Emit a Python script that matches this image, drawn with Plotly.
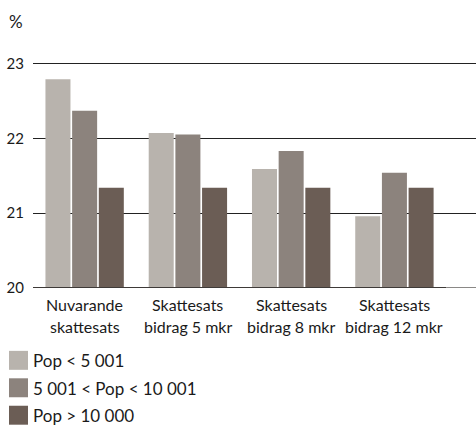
import plotly.graph_objects as go

# Data
categories = ["Nuvarande<br>skattesats", "Skattesats<br>bidrag 5 mkr",
              "Skattesats<br>bidrag 8 mkr", "Skattesats<br>bidrag 12 mkr"]
series_names = ["Pop < 5 001", "5 001 < Pop < 10 001", "Pop > 10 000"]
pop_small = [22.79, 22.07, 21.59, 20.96]
pop_mid = [22.37, 22.05, 21.83, 21.54]
pop_large = [21.34, 21.34, 21.34, 21.34]
series_values = [pop_small, pop_mid, pop_large]
colors = ["#B8B3AD", "#8C837D", "#6B5D55"]
y_ticks = [20, 21, 22, 23]

W, H = 476, 429
Y_MAX = 23.02
L, R, B = 33, 0, 141
T = 63 - (Y_MAX - 23) * 75
FONT = "Lato"
TEXT = "#1a1a1a"

plot_w = W - L - R
plot_h = H - T - B


def px_x(px):
    return (px - L) / plot_w


def px_y(py):
    return (H - B - py) / plot_h


fig = go.Figure()
idx = list(range(len(categories)))
for name, vals, col in zip(series_names, series_values, colors):
    fig.add_trace(go.Bar(x=idx, y=vals, name=name, marker_color=col,
                         marker_line_width=0, showlegend=False))

shapes = []
annotations = []

# Baseline at 20: dark under the category bands, lighter beyond
shapes.append(dict(type="line", xref="x", yref="y", x0=-0.5, x1=3.5, y0=20, y1=20,
                   line=dict(color="#3e3a38", width=2), layer="above"))
shapes.append(dict(type="line", xref="x", yref="y", x0=3.5, x1=3.79, y0=20, y1=20,
                   line=dict(color="#8a8886", width=2), layer="above"))

# Category labels (two lines each)
for i, c in enumerate(categories):
    for j, line in enumerate(c.split("<br>")):
        annotations.append(dict(x=i, xref="x", y=px_y(305 + 22 * j), yref="paper",
                                text=line, showarrow=False, xanchor="center",
                                yanchor="middle",
                                font=dict(family=FONT, size=16, color=TEXT)))

# Legend
for k, (name, col) in enumerate(zip(series_names, colors)):
    top = 351 + 27.5 * k
    shapes.append(dict(type="rect", xref="paper", yref="paper",
                       x0=px_x(9), x1=px_x(28), y0=px_y(top), y1=px_y(top + 19),
                       fillcolor=col, line=dict(width=0)))
    annotations.append(dict(x=px_x(31), xref="paper", y=px_y(top + 10), yref="paper",
                            text=name, showarrow=False, xanchor="left", yanchor="middle",
                            font=dict(family=FONT, size=17, color=TEXT)))

# Unit label
annotations.append(dict(x=px_x(7), xref="paper", y=px_y(21), yref="paper", text="%",
                        showarrow=False, xanchor="left", yanchor="middle",
                        font=dict(family=FONT, size=17, color=TEXT)))

fig.update_layout(
    width=W, height=H,
    margin=dict(l=L, r=R, t=T, b=B),
    paper_bgcolor="white", plot_bgcolor="white",
    barmode="group", bargap=0.225, bargroupgap=0.0625,
    showlegend=False,
    shapes=shapes, annotations=annotations,
    xaxis=dict(range=[-0.5, 3.79], showticklabels=False, showgrid=False,
               zeroline=False, showline=False, ticks=""),
    yaxis=dict(range=[20, Y_MAX], tickvals=y_ticks, showgrid=True, gridcolor="#222222",
               gridwidth=1, zeroline=False, showline=False, ticks="",
               ticklabelstandoff=8,
               tickfont=dict(family=FONT, size=15, color=TEXT)),
)

fig.write_html("out.html")
